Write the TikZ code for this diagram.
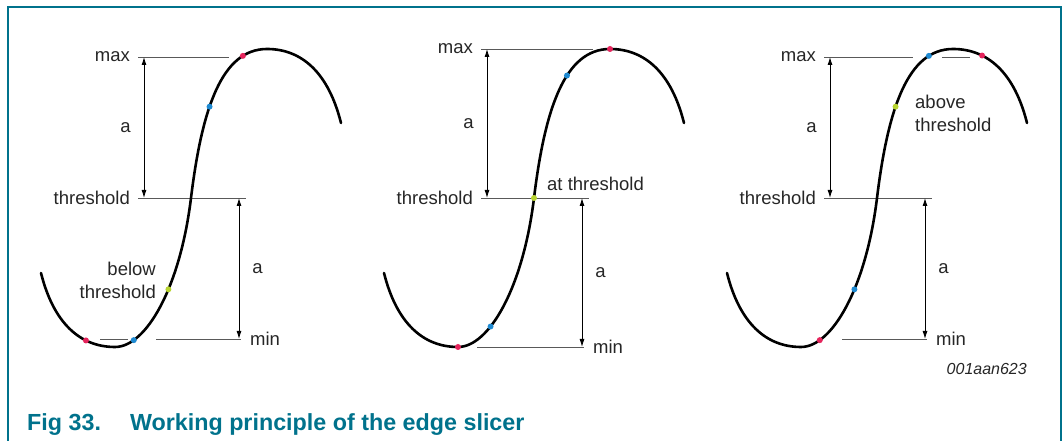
\documentclass[tikz,border=0pt]{standalone}
\usepackage{fontspec}
\setmainfont{Liberation Sans}
\usetikzlibrary{arrows.meta}
\definecolor{nxpteal}{HTML}{00728C}
\definecolor{spotred}{HTML}{E5245C}
\definecolor{spotblue}{HTML}{1E8AD2}
\definecolor{spotgreen}{HTML}{B8D430}

\begin{document}
\begin{tikzpicture}
  [x=1pt,y=1pt,
   every node/.style={inner sep=0pt,text=black!85,font=\fontsize{18.5}{23}\selectfont},
   level/.style={draw=black!65,line width=0.85pt},
   span/.style={line width=0.9pt,{Latex[length=8pt,width=5pt]}-{Latex[length=8pt,width=5pt]}},
   wave/.style={line width=2.6pt,line cap=round},
   spot/.style={circle,fill=#1,minimum size=6pt}]
  \useasboundingbox (0,0) rectangle (1063,441);
  \draw[nxpteal,line width=1.5pt] (8,0) -- (8,434) -- (1061,434) -- (1061,0);

  % one slicer panel per sample phase
  \foreach \n/\px/\lv/\mxr/\mnl in {1/191/141/38/-35, 2/534/149/59/-57, 3/877/141/36/-35}
  {
  \begin{scope}[shift={(\px,243)}]
    \coordinate (p\n-mxa) at (-53,\lv);
    \coordinate (p\n-mxb) at (\mxr,\lv);
    \coordinate (p\n-tha) at (-53,0);
    \coordinate (p\n-thb) at (55,0);
    \coordinate (p\n-mna) at (\mnl,-\lv);
    \coordinate (p\n-mnb) at (50,-\lv);
    \coordinate (p\n-up1) at (-47,\lv);
    \coordinate (p\n-up2) at (-47,0);
    \coordinate (p\n-dn1) at (48,0);
    \coordinate (p\n-dn2) at (48,-\lv);

    \draw[level] (p\n-mxa) -- (p\n-mxb);
    \draw[level] (p\n-tha) -- (p\n-thb);
    \draw[level] (p\n-mna) -- (p\n-mnb);
    \draw[span] (p\n-up1) -- (p\n-up2) node[midway,left=13pt] (p\n-a1) {a};
    \draw[span] (p\n-dn1) -- (p\n-dn2) node[midway,right=13pt] (p\n-a2) {a};

    \node[anchor=east] (p\n-max) at (-61,\lv) {max};
    \node[anchor=east] (p\n-thr) at (-61,0) {threshold};
    \node[anchor=west] (p\n-min) at (59,-\lv) {min};

    \draw[wave] (-150,-75) .. controls (-137.5,-125) and (-111,-149) .. (-76,-149)
        coordinate[pos=0.7] (p\n-a7)
      .. controls (-45,-149) and (-11,-90) .. (0,0)
        coordinate[pos=0] (p\n-lo) coordinate[pos=0.2] (p\n-b2)
        coordinate[pos=0.35] (p\n-b35) coordinate[pos=0.6] (p\n-b6)
        coordinate[pos=1] (p\n-mid)
      .. controls (11,90) and (31,149) .. (76,149)
        coordinate[pos=0.4] (p\n-c4) coordinate[pos=0.6] (p\n-c6)
        coordinate[pos=0.8] (p\n-c8) coordinate[pos=1] (p\n-hi)
      .. controls (111,149) and (137.5,125) .. (150,75)
        coordinate[pos=0.3] (p\n-d3);
  \end{scope}
  }

  \coordinate (s1a) at (100,102);
  \coordinate (s1b) at (128,102);
  \coordinate (s3a) at (942,384);
  \coordinate (s3b) at (970,384);
  \draw[level] (s1a) -- (s1b);
  \draw[level] (s3a) -- (s3b);

  % sample points
  \foreach \p/\c in {p1-a7/spotred, p1-b2/spotblue, p1-b6/spotgreen, p1-c4/spotblue, p1-c8/spotred,
                     p2-lo/spotred, p2-b35/spotblue, p2-mid/spotgreen, p2-c6/spotblue, p2-hi/spotred,
                     p3-b2/spotred, p3-b6/spotblue, p3-c4/spotgreen, p3-c8/spotblue, p3-d3/spotred}
    \node[spot=\c] (m-\p) at (\p) {};

  \node[anchor=east,align=right] (below) at (156,161) {below\\threshold};
  \node[anchor=west] (atthr) at (547,257) {at threshold};
  \node[anchor=west,align=left] (above) at (915,328) {above\\threshold};

  \node[anchor=base east,font=\itshape\fontsize{16}{19}\selectfont] (tag) at (1027,66) {001aan623};
  \node[anchor=base west,text=nxpteal,font=\bfseries\fontsize{23.3}{27}\selectfont] (caption) at (27,10)
    {Fig 33.\hspace{29pt}Working principle of the edge slicer};
\end{tikzpicture}
\end{document}
